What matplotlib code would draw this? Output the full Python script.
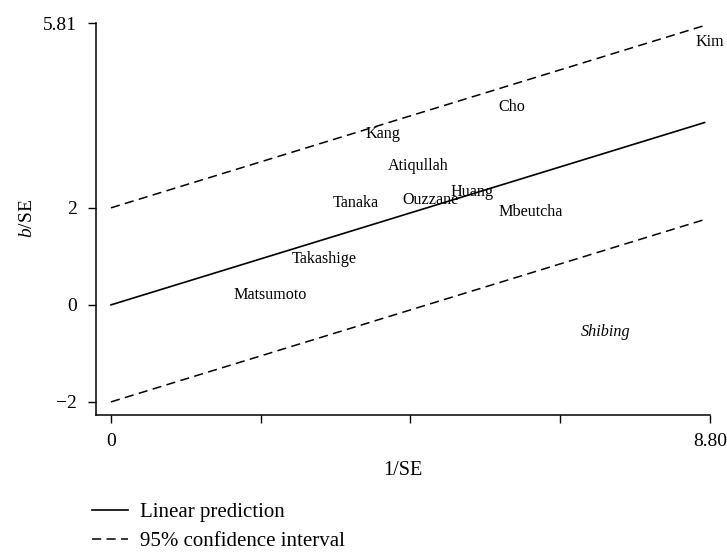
import matplotlib.pyplot as plt
import numpy as np

plt.rcParams['font.family'] = ['Liberation Serif', 'DejaVu Serif']
plt.rcParams['mathtext.fontset'] = 'custom'
plt.rcParams['mathtext.it'] = 'Liberation Serif:italic'
plt.rcParams['mathtext.rm'] = 'Liberation Serif'
plt.rcParams['axes.unicode_minus'] = True

# studies: 1/SE (x) and b/SE (y)
studies = ['Kim', 'Cho', 'Kang', 'Atiqullah', 'Tanaka', 'Ouzzane', 'Huang',
           'Mbeutcha', 'Takashige', 'Matsumoto', 'Shibing']
inv_se = [8.80, 5.89, 4.00, 4.52, 3.60, 4.69, 5.30, 6.16, 3.13, 2.34, 7.26]
b_se = [5.42, 4.08, 3.53, 2.87, 2.10, 2.16, 2.33, 1.92, 0.95, 0.21, -0.56]
italic_studies = ['Shibing']

# fitted line through origin and +/-2 band
slope = 0.431
fit_x = [0, 8.72]
band = 2

fig = plt.figure(figsize=(7.27, 5.52), dpi=100)
ax = fig.add_axes([96 / 727, 1 - 415 / 552, (710 - 96) / 727, (415 - 23) / 552])

xs = np.array(fit_x)
line_fit, = ax.plot(xs, slope * xs, color='black', lw=1.2, label='Linear prediction')
line_ci, = ax.plot(xs, slope * xs + band, color='black', lw=1.1, dashes=(6, 3.5),
                   label='95% confidence interval')
ax.plot(xs, slope * xs - band, color='black', lw=1.1, dashes=(6, 3.5))

for name, x, y in zip(studies, inv_se, b_se):
    style = 'italic' if name in italic_studies else 'normal'
    ax.text(x, y, name, ha='center', va='center', fontsize=11.6, style=style)

ax.set_xlim(-0.22, 8.8)
ax.set_ylim(-2.27, 5.81)

ax.set_xticks([0, 2.2, 4.4, 6.6, 8.8])
ax.set_xticklabels(['0', '', '', '', '8.80'])
ax.set_yticks([-2, 0, 2, 5.81])
ax.set_yticklabels(['\u22122', '0', '2', '5.81'])
ax.tick_params(direction='out', length=6, width=1, labelsize=14)
ax.tick_params(axis='y', pad=8)
ax.tick_params(axis='x', pad=7)

for side in ['top', 'right']:
    ax.spines[side].set_visible(False)
for side in ['left', 'bottom']:
    ax.spines[side].set_linewidth(1.1)

ax.set_xlabel('1/SE', fontsize=14.5, labelpad=8)
ax.set_ylabel('$b$/SE', fontsize=14, labelpad=5)

fig.legend(handles=[line_fit, line_ci], loc='upper left',
           bbox_to_anchor=(86 / 727, 1 - 496 / 552), frameon=False,
           fontsize=15, handlelength=1.7, handletextpad=0.6, labelspacing=0.45,
           borderaxespad=0, borderpad=0.3)

fig.savefig('out.png', dpi=100)
